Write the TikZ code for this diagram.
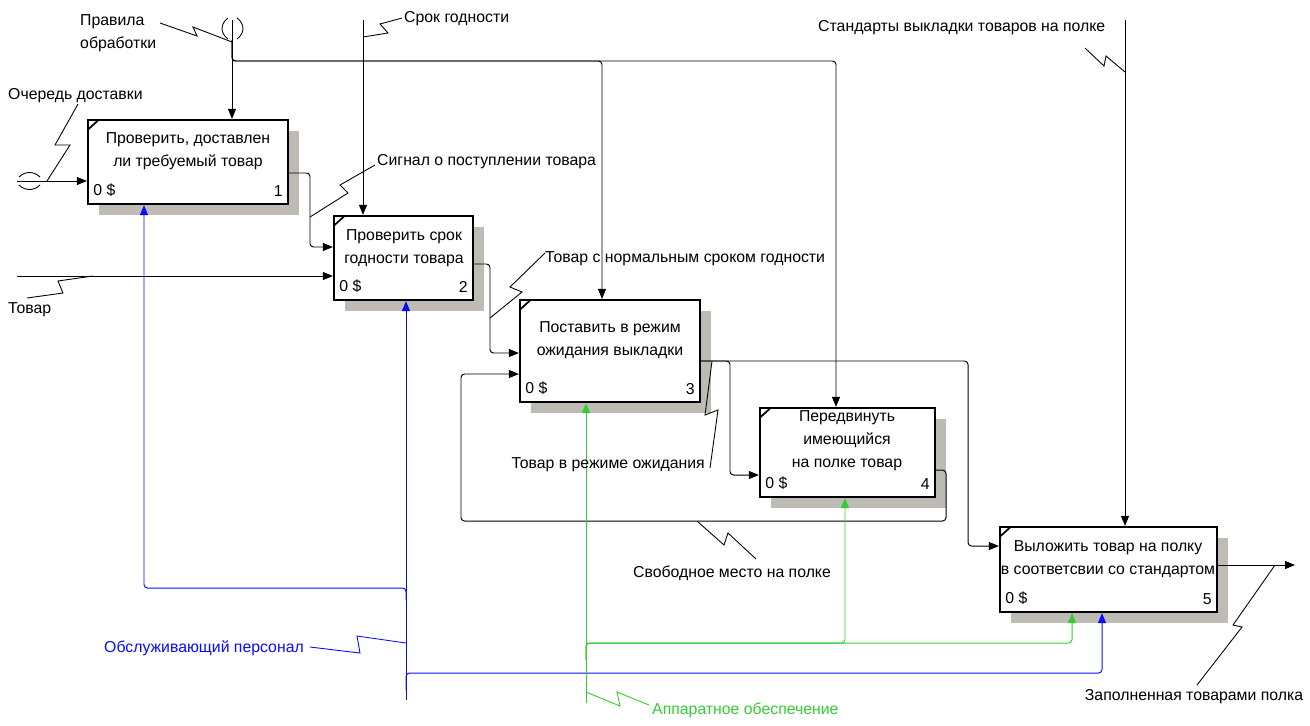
\documentclass[tikz,border=0pt]{standalone}
\usepackage{fontspec}
\setmainfont{Liberation Sans}
\usetikzlibrary{arrows.meta,shadows}

\definecolor{shade}{RGB}{190,187,181}
\definecolor{mgreen}{RGB}{51,204,51}
\definecolor{mblue}{RGB}{10,10,250}

\tikzset{
  >={Triangle[length=2mm,width=1.6mm]},
  func/.style={draw=black, line width=1.3pt, fill=white, inner sep=0pt,
    drop shadow={shadow xshift=0.22cm, shadow yshift=-0.22cm, fill=shade, opacity=1},
    path picture={\draw[line width=1pt] ([yshift=-0.19cm]path picture bounding box.north west) -- ([xshift=0.21cm]path picture bounding box.north west);},
    label={[cost]south west:0 \$}},
  cost/.style={anchor=south west, inner xsep=3.5pt, inner ysep=4.5pt},
  num/.style={anchor=south east, inner xsep=3.5pt, inner ysep=4.5pt},
  ttl/.style={align=center},
  lbl/.style={inner sep=0.5pt},
  arr/.style={->, line width=0.55pt, rounded corners=2pt},
  sq/.style={line width=0.5pt},
}

\begin{document}
\begin{tikzpicture}[x=0.02cm, y=-0.02cm, font=\fontsize{9}{13}\selectfont]
\useasboundingbox (0,0) rectangle (1310,725);
% functions
\node[func, minimum width=4cm, minimum height=1.68cm, label={[num]south east:1}] (CHK) at (188,162) {};
\node[func, minimum width=2.78cm, minimum height=1.68cm, label={[num]south east:2}] (EXP) at (403.5,258) {};
\node[func, minimum width=3.6cm, minimum height=2.04cm, label={[num]south east:3}] (WAIT) at (610,351) {};
\node[func, minimum width=3.5cm, minimum height=1.78cm, label={[num]south east:4}] (MOVE) at (847.5,452.5) {};
\node[func, minimum width=4.34cm, minimum height=1.7cm, label={[num]south east:5}] (PUT) at (1108.5,569.5) {};
\node[ttl] (CHKt) at (188,151) {Проверить, доставлен\\ли требуемый товар};
\node[ttl] (EXPt) at (404,248) {Проверить срок\\годности товара};
\node[ttl] (WAITt) at (610,340) {Поставить в режим\\ожидания выкладки};
\node[ttl] (MOVEt) at (847,441) {Передвинуть\\имеющийся\\на полке товар};
\node[ttl] (PUTt) at (1108,559) {Выложить товар на полку\\в соответсвии со стандартом};

% controls
\coordinate (rules) at (232,20);
\draw[arr] (rules) -- (rules |- CHK.north);
\draw[arr] (232,40) |- (602,61) -- (602,0 |- WAIT.north);
\draw[arr] (232,40) |- (836,61) -- (836,0 |- MOVE.north);
\coordinate (shelf) at (363,20);
\draw[arr] (shelf) -- (shelf |- EXP.north);
\coordinate (std) at (1125,20);
\draw[arr] (std) -- (std |- PUT.north);
\draw[sq] (228,18) .. controls (220,24) and (220,33) .. (228,39);
\draw[sq] (237,18) .. controls (245,24) and (245,33) .. (237,39);

% inputs and outputs
\coordinate (queue) at (17,181);
\draw[arr] (queue) -- (queue -| CHK.west);
\draw[sq] (19,177) .. controls (25,171) and (34,171) .. (40,177);
\draw[sq] (19,185) .. controls (25,191) and (34,191) .. (40,185);
\coordinate (goods) at (17,276);
\draw[arr] (goods) -- (goods -| EXP.west);
\draw[arr] (CHK.east |- 0,173) -| (310,247) -- (EXP.west |- 0,247);
\draw[arr] (EXP.east |- 0,264) -| (490,353) -- (WAIT.west |- 0,353);
\draw[arr] (WAIT.east |- 0,361) -| (730,475) -- (MOVE.west |- 0,475);
\draw[arr] (WAIT.east |- 0,361) -| (968,546) -- (PUT.west |- 0,546);
\draw[arr] (MOVE.east |- 0,470) -| (946,521) -| (461,374) -- (WAIT.west |- 0,374);
\coordinate (full) at (1295,565);
\draw[arr] (PUT.east |- full) -- (full);

% mechanisms
\coordinate (staff) at (406,700);
\draw[arr, mblue] (staff) -- (staff |- EXP.south);
\draw[arr, mblue] (406,600) |- (144,588) -- (144,0 |- CHK.south);
\draw[arr, mblue] (406,690) |- (1102,673) -- (1102,0 |- PUT.south);
\coordinate (hw) at (586,703);
\draw[arr, mgreen] (hw) -- (hw |- WAIT.south);
\draw[arr, mgreen] (586,660) |- (845,643) -- (845,0 |- MOVE.south);
\draw[arr, mgreen] (586,660) |- (1072,643) -- (1072,0 |- PUT.south);

% labels
\node[lbl, anchor=west, align=left] (rulesL) at (79,33) {Правила\\обработки};
\draw[sq] (160,23) -- (197,36) -- (193,27) -- (232,42);
\node[lbl, anchor=west] (shelfL) at (403,19) {Срок годности};
\draw[sq] (402,18) -- (380,24) -- (388,33) -- (363,37);
\node[lbl, anchor=west] (queueL) at (7,96) {Очередь доставки};
\draw[sq] (78,104) -- (55,145) -- (70,145) -- (47,181);
\node[lbl, anchor=west] (goodsL) at (7,310) {Товар};
\draw[sq] (93,276) -- (58,281) -- (63,293) -- (27,298);
\node[lbl, anchor=west] (sigL) at (376,162) {Сигнал о поступлении товара};
\draw[sq] (375,165) -- (340,185) -- (348,193) -- (310,217);
\node[lbl, anchor=west] (okL) at (544,259) {Товар с нормальным сроком годности};
\draw[sq] (545,253) -- (510,287) -- (522,292) -- (490,318);
\node[lbl, anchor=east] (waitL) at (706,465) {Товар в режиме ожидания};
\draw[sq] (710,468) -- (718,410) -- (705,415) -- (712,361);
\node[lbl] (freeL) at (732,573) {Свободное место на полке};
\draw[sq] (697,521) -- (724,545) -- (728,533) -- (756,559);
\node[lbl] (fullL) at (1194,697) {Заполненная товарами полка};
\draw[sq] (1197,685) -- (1242,627) -- (1233,625) -- (1275,565);
\node[lbl, anchor=west] (stdL) at (817,28) {Стандарты выкладки товаров на полке};
\draw[sq] (1085,48) -- (1104,66) -- (1106,56) -- (1125,72);
\node[lbl, anchor=east, mblue] (staffL) at (305,648) {Обслуживающий персонал};
\draw[sq, mblue] (310,647) -- (360,653) -- (357,636) -- (406,643);
\node[lbl, anchor=west, mgreen] (hwL) at (651,710) {Аппаратное обеспечение};
\draw[sq, mgreen] (586,692) -- (620,706) -- (617,692) -- (649,705);
\end{tikzpicture}
\end{document}
